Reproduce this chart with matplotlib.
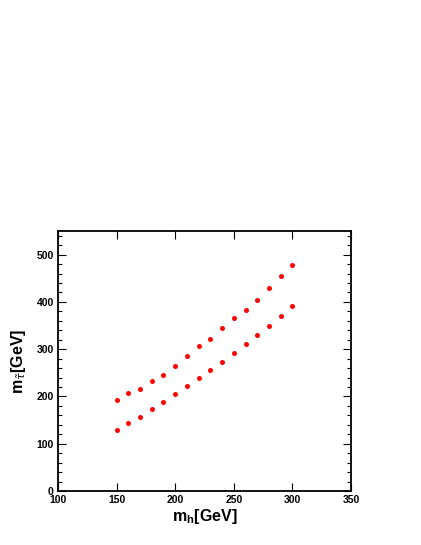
import matplotlib
matplotlib.use("Agg")
import matplotlib.pyplot as plt
from matplotlib.ticker import MultipleLocator

mh = [150, 160, 170, 180, 190, 200, 210, 220, 230, 240, 250, 260, 270, 280, 290, 300]
m_upper = [192, 207, 215, 233, 245, 265, 285, 307, 321, 344, 365, 382, 405, 430, 455, 479]
m_lower = [128, 143, 157, 173, 189, 205, 222, 239, 255, 273, 292, 311, 329, 349, 370, 391]

plt.rcParams['font.family'] = ['Liberation Sans', 'DejaVu Sans']

fig = plt.figure(figsize=(4.21, 5.45), dpi=100)
ax = fig.add_axes([58/421, 1-491/545, (351-58)/421, (491-231)/545])

ax.plot(mh, m_upper, 'o', color='#ff0000', ms=3.6, mec='none')
ax.plot(mh, m_lower, 'o', color='#ff0000', ms=3.6, mec='none')

ax.set_xlim(100, 350)
ax.set_ylim(0, 550)
ax.xaxis.set_major_locator(MultipleLocator(50))
ax.yaxis.set_major_locator(MultipleLocator(100))
ax.yaxis.set_minor_locator(MultipleLocator(20))
ax.tick_params(which='both', direction='in', top=True, right=True, labelsize=7.5, width=0.8)
ax.tick_params(which='major', length=6)
ax.tick_params(which='minor', length=3)
ax.tick_params(axis='x', which='major', pad=3)
ax.tick_params(axis='y', which='major', pad=3)
for lab in ax.get_xticklabels() + ax.get_yticklabels():
    lab.set_fontweight('bold')
for s in ax.spines.values():
    s.set_linewidth(1.3)

ax.set_xlabel(r'm$_{\mathregular{h}}$[GeV]', fontsize=11.5, fontweight='bold', labelpad=1)
ax.set_ylabel(r'm$_{\tilde{\tau}}$[GeV]', fontsize=11.5, fontweight='bold', labelpad=6)

fig.savefig('out.png', dpi=100)
